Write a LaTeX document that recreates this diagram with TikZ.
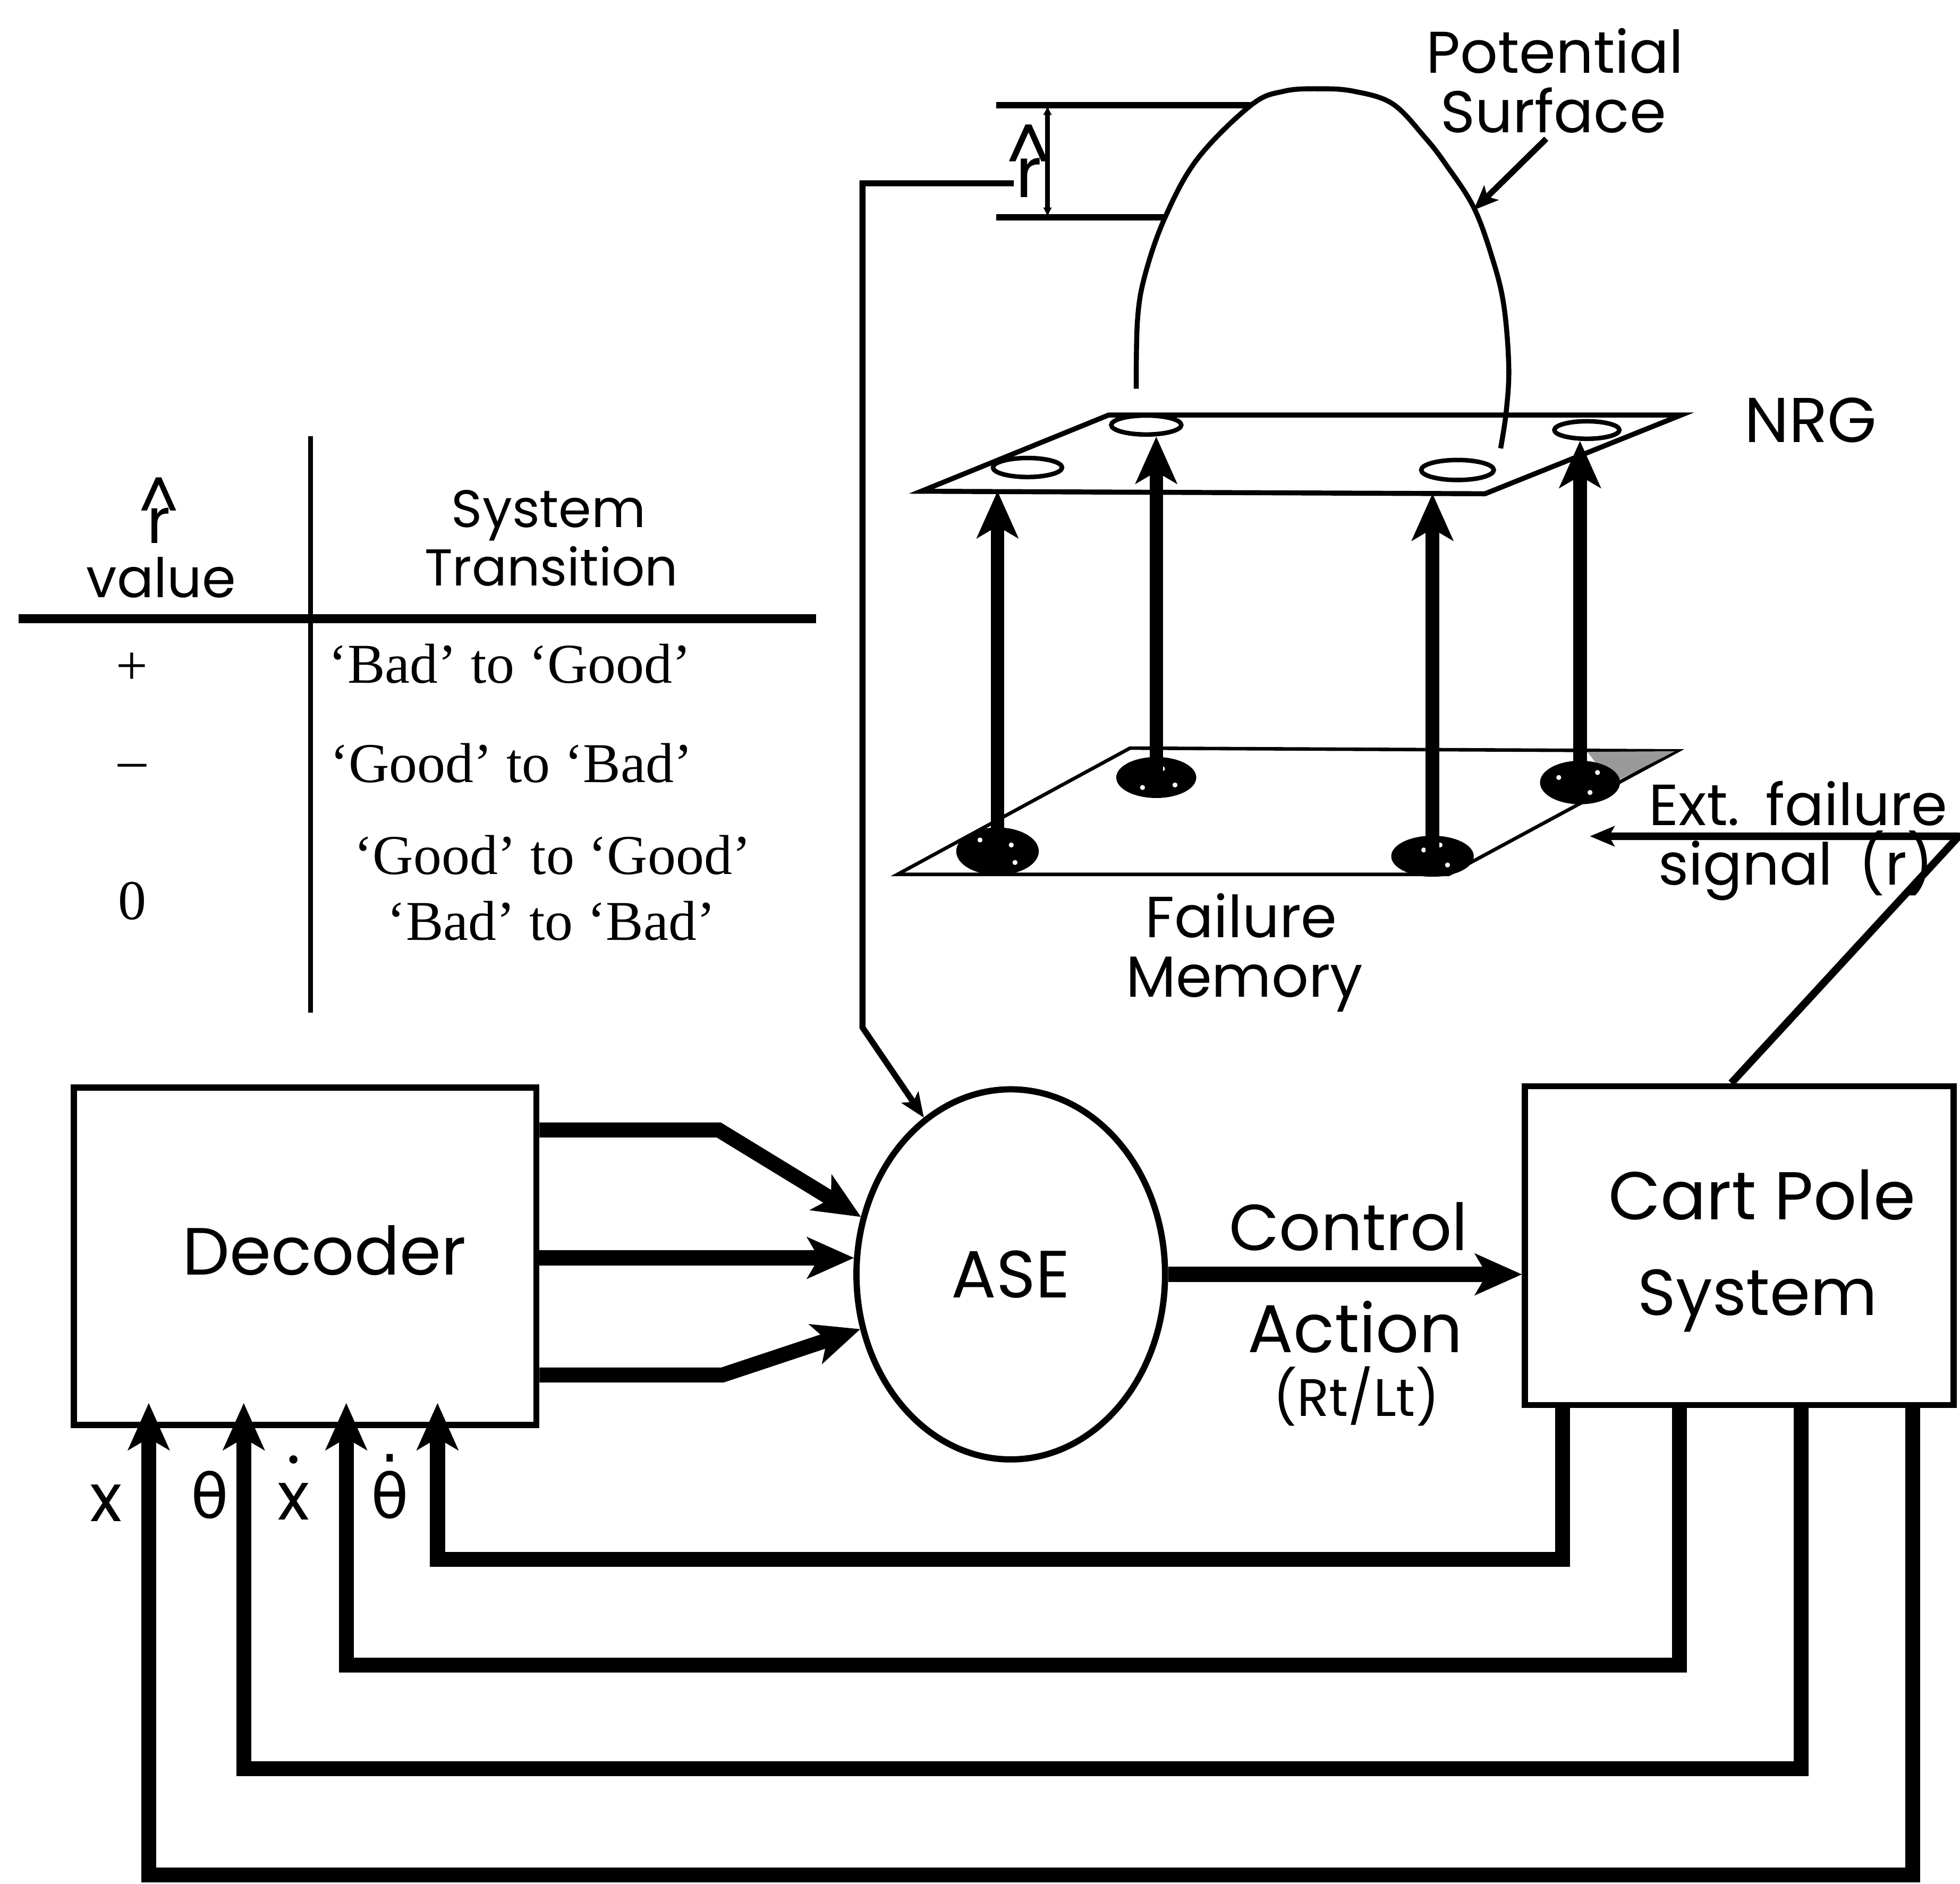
\documentclass[tikz,border=0pt]{standalone}
\usepackage{fontspec}
\setmainfont{Poppins}
\newfontfamily\tabserif{Liberation Serif}
\newfontfamily\grk{DejaVu Sans}
\usetikzlibrary{arrows.meta,shapes.geometric,calc}
\newcommand\fsz[1]{\fontsize{#1pt}{#1pt}\selectfont}
\newcommand\dotover[2]{\leavevmode\setbox0=\hbox{#2}\rlap{\hbox to\wd0{\hss\raisebox{\dimexpr\ht0+#1\relax}{.}\hss}}\box0}
\newcommand\hatover[2]{\leavevmode\setbox0=\hbox{#2}\rlap{\hbox to\wd0{\hss\raisebox{#1}{\symbol{94}}\hss}}\box0}
\begin{document}
\begin{tikzpicture}[x=0.025cm,y=-0.025cm,
  outl/.style={line width=0.125cm},
  thk/.style={line width=0.3cm},
  bigtip/.style={-{Stealth[length=0.95cm,width=0.85cm,inset=0.25cm,line width=0pt]}},
  smalltip/.style={-{Stealth[length=0.5cm,width=0.42cm,inset=0.12cm,line width=0pt]}},
  box/.style={draw,outl,inner sep=0pt,rectangle},
  blob/.style={ellipse,fill=black,inner sep=0pt},
  hole/.style={ellipse,draw,fill=white,line width=0.09cm,inner sep=0pt},
  txt/.style={anchor=base,inner sep=0pt},
  ctxt/.style={anchor=center,inner sep=0pt}]
\useasboundingbox (0,0) rectangle (1568,1507);
\fill[white] (0,0) rectangle (1568,1507);

% ---------- Failure memory plane ----------
\draw[line width=0.07cm] (904,598.5) -- (1342,600.7) -- (1159,699.5) -- (718,699.5) -- cycle;
\fill[black!40] (1270,601.5) -- (1340,601) -- (1289,627) -- cycle;
\node[blob,minimum width=1.65cm,minimum height=0.95cm] (b1) at (798,681) {};
\node[blob,minimum width=1.6cm,minimum height=0.82cm] (b2) at (925,622) {};
\node[blob,minimum width=1.65cm,minimum height=0.82cm] (b3) at (1146,685) {};
\node[blob,minimum width=1.6cm,minimum height=0.87cm] (b4) at (1264,626) {};
\foreach \p in {(784,672),(812,690),(809,676),(930,615),(914,630),(940,628),(1139,680),(1158,692),(1152,676),(1247,622),(1272,634),(1278,618)}
  \fill[white] \p circle (0.05cm);

% ---------- NRG plane ----------
\coordinate (nBL) at (887,332);
\coordinate (nBR) at (1345,332);
\coordinate (nFR) at (1188,395);
\coordinate (nFL) at (737,393);
\draw[line width=0.1cm] (nBL) -- (nBR) -- (nFR) -- (nFL) -- cycle;
\node[hole,minimum width=1.4cm,minimum height=0.38cm] (h1) at (917,340) {};
\node[hole,minimum width=1.38cm,minimum height=0.38cm] (h2) at (822,374) {};
\node[hole,minimum width=1.45cm,minimum height=0.4cm] (h3) at (1166,376) {};
\node[hole,minimum width=1.3cm,minimum height=0.35cm] (h4) at (1269.5,344) {};

% vertical arrows memory -> NRG
\draw[line width=0.27cm,bigtip] (b1.center) -- (b1 |- nFL);
\draw[line width=0.27cm,bigtip] (b2.center) -- (b2 |- h1.south);
\draw[line width=0.27cm,bigtip] (b3.center) -- (b3 |- nFR);
\draw[line width=0.27cm,bigtip] (b4.center) -- (b4 |- h4.south);

% ---------- potential surface ----------
\draw[line width=0.1cm] plot[smooth,tension=0.6] coordinates {(909,311) (910,256) (916,220) (932,174) (958,127) (1001,84) (1027,73) (1055,71) (1083,73) (1114,83) (1140,110) (1157,132) (1179,166) (1194,207) (1203,244) (1207,293) (1205,329) (1200.5,358.7)};
\draw[line width=0.13cm] (797,84) -- (1001,84);
\draw[line width=0.13cm] (797,174) -- (932,174);
\draw[line width=0.09cm,{Latex[length=0.2cm,width=0.18cm]}-{Latex[length=0.2cm,width=0.18cm]}] (838,84) -- (838,174);
\node[txt] (rhat) at (823,158) {\fsz{40}\hatover{0.34em}{r}};

\node[txt] (tPot) at (1243.9,58.6) {\fsz{33.5}Potential};
\node[txt] (tSurf) at (1242.6,106.1) {\fsz{33.5}Surface};
\coordinate (psA) at (1237,111);
\coordinate (psB) at (1179,168);
\draw[line width=0.12cm,smalltip] (psA) -- (psB);

\node[txt] (tNRG) at (1448.6,354) {\fsz{36}NRG};
\node[txt] (tFail) at (993,750) {\fsz{33}Failure};
\node[txt] (tMem) at (995.6,797.5) {\fsz{33}Memory};
\node[txt] (tExt) at (1438.7,660.3) {\fsz{33}Ext.\hspace{0.45em}failure};
\node[txt] (tSig) at (1436.7,707.8) {\fsz{33}signal\hspace{0.45em}(r)};

% ---------- table ----------
\draw[line width=0.1cm] (248.5,349) -- (248.5,810);
\draw[line width=0.18cm] (15,495) -- (653,495);
\node[txt] (thr) at (127,434.4) {\fsz{36}\hatover{0.34em}{r}};
\node[txt] (thv) at (129,478) {\fsz{31}value};
\node[txt] (ths) at (439,422) {\fsz{30}System};
\node[txt] (tht) at (441,468.7) {\fsz{29.5}Transition};
\node[ctxt] (tp) at (105.7,535) {\tabserif\fsz{32}+};
\node[ctxt] (tm) at (105.7,617) {\tabserif\fsz{32}–};
\node[txt] (tz) at (105.7,735.4) {\tabserif\fsz{32}0};
\node[txt] (r1) at (408,546.6) {\tabserif\fsz{32}‘Bad’ to ‘Good’};
\node[txt] (r2) at (409,626) {\tabserif\fsz{32}‘Good’ to ‘Bad’};
\node[txt] (r3) at (442,699.6) {\tabserif\fsz{32}‘Good’ to ‘Good’};
\node[txt] (r4) at (441,752) {\tabserif\fsz{32}‘Bad’ to ‘Bad’};

% ---------- blocks ----------
\node[box,minimum width=9.25cm,minimum height=6.75cm] (dec) at (244,1005) {};
\node[txt] (tdec) at (259.5,1020) {\fsz{38}Decoder};
\node[ellipse,draw,outl,minimum width=6.17cm,minimum height=7.4cm,inner sep=0pt] (ase) at (808.6,1019.5) {\fsz{38}ASE};
\node[box,minimum width=8.575cm,minimum height=6.375cm] (cps) at (1391.5,996.5) {};
\node[txt] (tcp1) at (1409.6,975.5) {\fsz{38.5}Cart Pole};
\node[txt] (tcp2) at (1406,1052.4) {\fsz{37}System};

% decoder -> ASE
\coordinate (k1) at (575,904);
\coordinate (k3) at (578,1100);
\draw[thk,bigtip] (dec.east |- k1) -- (k1) -- (ase.159);
\draw[thk,bigtip] (dec.east |- ase.174) -- (ase.174);
\draw[thk,bigtip] (dec.east |- k3) -- (k3) -- (ase.200);

% ASE -> cart pole
\draw[thk,bigtip] (ase.east) -- (cps.west |- ase.east);
\node[txt] (tctl) at (1078.8,1000.5) {\fsz{37}Control};
\node[txt] (tact) at (1084.2,1082) {\fsz{38.5}Action};
\node[txt] (trl) at (1085,1133) {\fsz{30}(Rt/Lt)};

% r-hat -> ASE
\coordinate (rA) at (811,146.6);
\coordinate (rB) at (690,146.6);
\coordinate (rC) at (690,822);
\draw[line width=0.12cm,smalltip] (rA) -- (rB) -- (rC) -- (ase.119);

% external failure signal
\coordinate (eB) at (1385,869);
\coordinate (eC) at (1567,669);
\coordinate (eT) at (1272,669);
\draw[line width=0.15cm,line join=round,smalltip] (cps.north -| eB) -- (eC) -- (eT);

% feedback lines
\coordinate (f1r) at (1250,1247.5); \coordinate (f1l) at (350,1247.5);
\coordinate (f2r) at (1343.5,1332); \coordinate (f2l) at (277,1332);
\coordinate (f3r) at (1441,1415);   \coordinate (f3l) at (195,1415);
\coordinate (f4r) at (1530,1500);   \coordinate (f4l) at (119,1500);
\draw[thk,bigtip,shorten >=-0.5cm] (cps.south -| f1r) -- (f1r) -- (f1l) -- (dec.south -| f1l);
\draw[thk,bigtip,shorten >=-0.5cm] (cps.south -| f2r) -- (f2r) -- (f2l) -- (dec.south -| f2l);
\draw[thk,bigtip,shorten >=-0.5cm] (cps.south -| f3r) -- (f3r) -- (f3l) -- (dec.south -| f3l);
\draw[thk,bigtip,shorten >=-0.5cm] (cps.south -| f4r) -- (f4r) -- (f4l) -- (dec.south -| f4l);

\node[txt] (lx) at (85,1217) {\fsz{38}x};
\node[txt] (lth) at (168,1214.5) {\grk\fsz{35}θ};
\node[txt] (lxd) at (235,1216) {\fsz{38}\dotover{0.3em}{x}};
\node[txt] (lthd) at (312,1214.5) {\grk\fsz{35}\dotover{0.15em}{θ}};
\end{tikzpicture}
\end{document}
